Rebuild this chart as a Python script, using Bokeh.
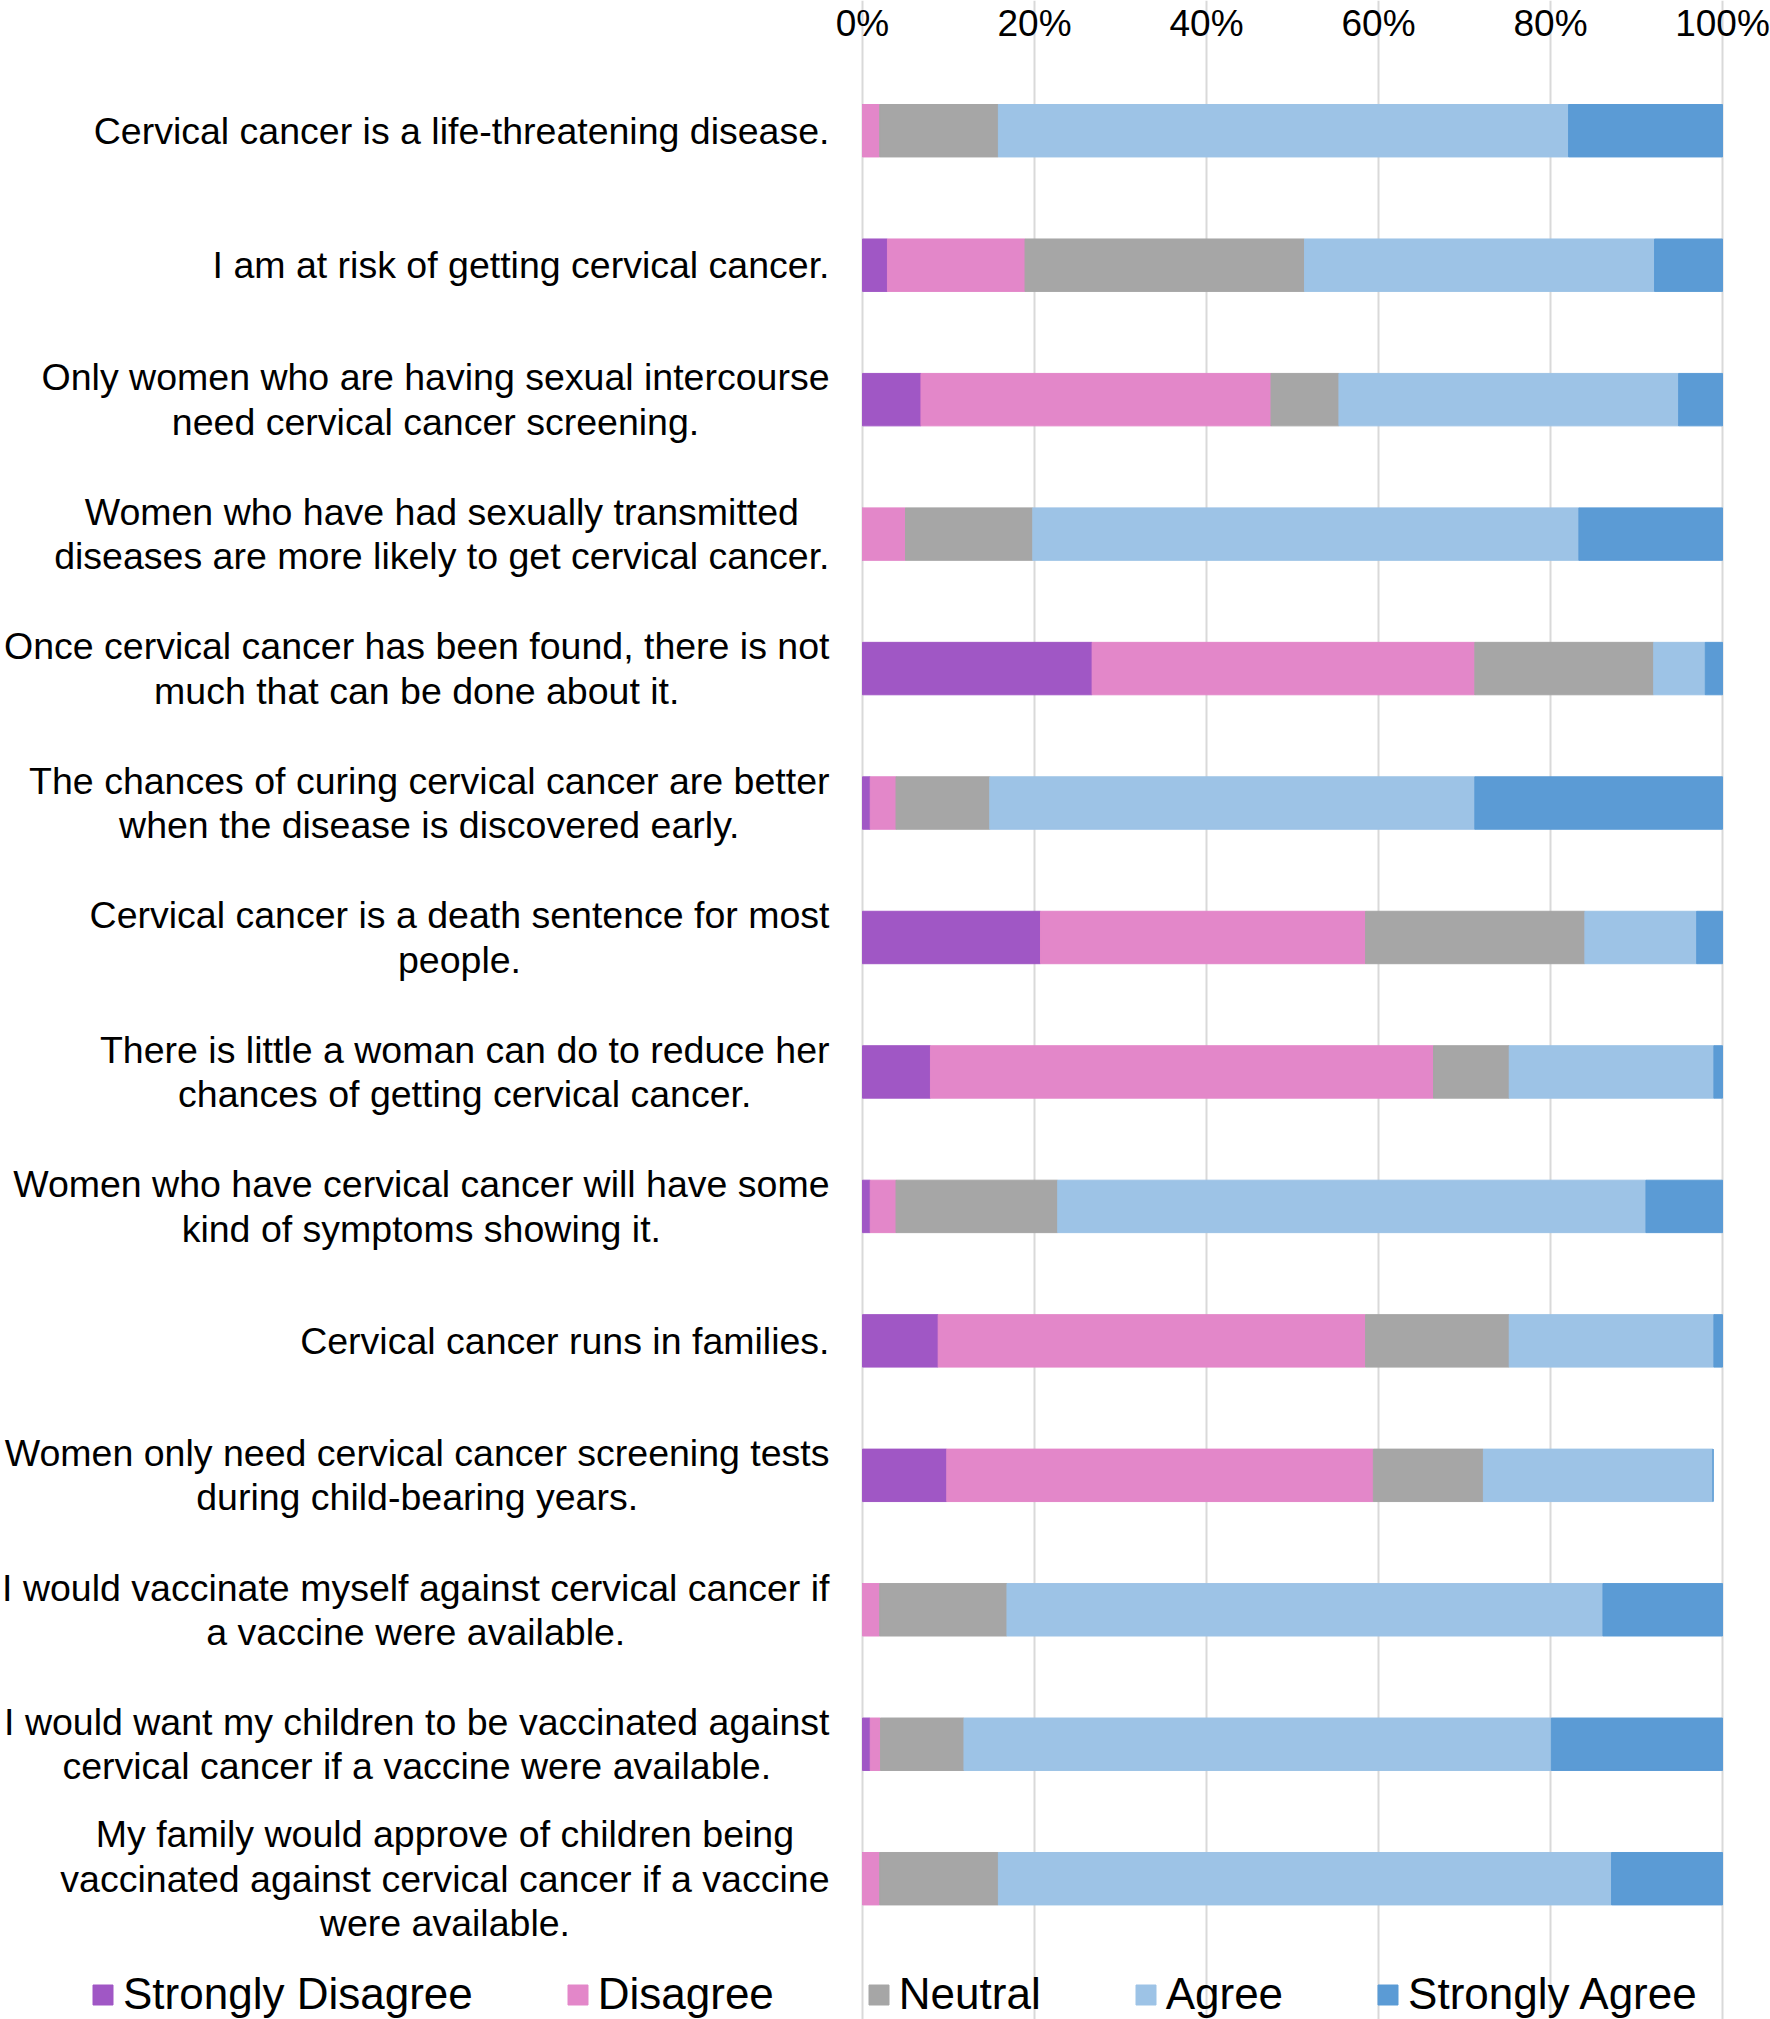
from bokeh.plotting import figure
from bokeh.models import ColumnDataSource, Range1d, FixedTicker, Grid
from bokeh.core.properties import value
from bokeh.embed import file_html
from bokeh.resources import INLINE

statements = [
    ["Cervical cancer is a life-threatening disease."],
    ["I am at risk of getting cervical cancer."],
    ["Only women who are having sexual intercourse", "need cervical cancer screening."],
    ["Women who have had sexually transmitted", "diseases are more likely to get cervical cancer."],
    ["Once cervical cancer has been found, there is not", "much that can be done about it."],
    ["The chances of curing cervical cancer are better", "when the disease is discovered early."],
    ["Cervical cancer is a death sentence for most", "people."],
    ["There is little a woman can do to reduce her", "chances of getting cervical cancer."],
    ["Women who have cervical cancer will have some", "kind of symptoms showing it."],
    ["Cervical cancer runs in families."],
    ["Women only need cervical cancer screening tests", "during child-bearing years."],
    ["I would vaccinate myself against cervical cancer if", "a vaccine were available."],
    ["I would want my children to be vaccinated against", "cervical cancer if a vaccine were available."],
    ["My family would approve of children being", "vaccinated against cervical cancer if a vaccine", "were available."],
]

series = ["Strongly Disagree", "Disagree", "Neutral", "Agree", "Strongly Agree"]
colors = ["#A057C5", "#E387C9", "#A6A6A6", "#9DC3E6", "#5B9BD5"]

strongly_disagree = [0.0, 2.9, 6.8, 0.0, 26.7, 0.9, 20.7, 7.9, 0.9, 8.8, 9.8, 0.0, 0.9, 0.0]
disagree          = [2.0, 16.0, 40.7, 5.0, 44.5, 3.0, 37.8, 58.5, 3.0, 49.7, 49.6, 2.0, 1.2, 2.0]
neutral           = [13.8, 32.5, 7.9, 14.8, 20.8, 10.9, 25.5, 8.8, 18.8, 16.7, 12.8, 14.8, 9.7, 13.8]
agree             = [66.3, 40.7, 39.5, 63.5, 6.0, 56.4, 13.0, 23.8, 68.4, 23.8, 26.7, 69.3, 68.3, 71.3]
strongly_agree    = [17.9, 7.9, 5.1, 16.7, 2.0, 28.8, 3.0, 1.0, 8.9, 1.0, 0.0, 13.9, 19.9, 12.9]

tick_values = [0, 20, 40, 60, 80, 100]
tick_labels = ["0%", "20%", "40%", "60%", "80%", "100%"]

# ---- layout constants (pixels) ----
W, H = 1770, 2019
ROWS_TOP_PX = 63          # top of the bar area (gridlines start here)
TICK_LABEL_PX = 22.5      # vertical centre of the percentage labels
X0_PX, X100_PX = 862, 1722
ROW_PX = 134.46
LABEL_GAP_PX = 33
FONT = "Liberation Sans"

ppu = (X100_PX - X0_PX) / 100.0
n = len(statements)
y_top = -0.5 - ROWS_TOP_PX / ROW_PX

p = figure(width=W, height=H, output_backend="svg", toolbar_location=None,
           x_range=Range1d(-X0_PX / ppu, (W - X0_PX) / ppu),
           y_range=Range1d(y_top + H / ROW_PX, y_top),
           x_axis_type=None, y_axis_type=None,
           min_border_left=0, min_border_right=0, min_border_bottom=0, min_border_top=0,
           outline_line_color=None, background_fill_color="white", border_fill_color="white")
p.grid.visible = False

grid = Grid(dimension=0, ticker=FixedTicker(ticks=tick_values),
            grid_line_color="#D9D9D9", grid_line_width=2, bounds=(-0.5, n - 0.5))
p.add_layout(grid)

# percentage scale along the top
p.text(x=tick_values, y=[y_top + TICK_LABEL_PX / ROW_PX] * len(tick_values),
       text=tick_labels, text_align="center", text_baseline="middle",
       text_font=value(FONT), text_font_size="37px", text_color="black")

src = ColumnDataSource(dict(
    y=list(range(n)),
    **dict(zip(series, [strongly_disagree, disagree, neutral, agree, strongly_agree]))
))
p.hbar_stack(series, y="y", height=0.39, color=colors, source=src,
             legend_label=series)

p.text(x=[-LABEL_GAP_PX / ppu] * n, y=list(range(n)),
       text=["\n".join(s) for s in statements],
       text_align="center", anchor="center_right", text_baseline="middle",
       text_font=value(FONT), text_font_size="37.5px", text_color="black",
       text_line_height=1.055)

leg = p.legend[0]
leg.orientation = "horizontal"
leg.location = (90, 0)
leg.label_text_font = FONT
leg.label_text_font_size = "44px"
leg.label_text_color = "black"
leg.glyph_width = 25
leg.glyph_height = 25
leg.label_standoff = 8
leg.spacing = 92
leg.padding = 0
leg.margin = 0
leg.border_line_color = None
leg.background_fill_alpha = 0

open("out.html", "w").write(file_html(p, INLINE))
